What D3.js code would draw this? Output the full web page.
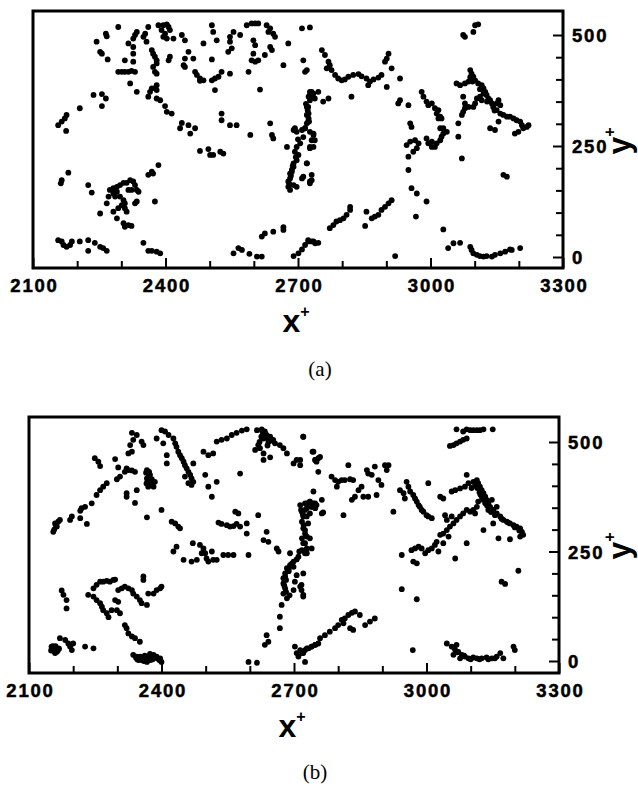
<!DOCTYPE html>
<html>
<head>
<meta charset="utf-8">
<script src="https://cdn.jsdelivr.net/npm/d3@7"></script>
<style>
  body { margin: 0; background: #fff; }
  svg { display: block; }
</style>
</head>
<body>
<div id="chart"></div>
<script>
// axis values
const xTickValues = [2100, 2200, 2300, 2400, 2500, 2600, 2700, 2800, 2900, 3000, 3100, 3200, 3300];
const xTickLabels = [2100, 2400, 2700, 3000, 3300];
const yTickValues = [0, 50, 100, 150, 200, 250, 300, 350, 400, 450, 500];
const yTickLabels = [0, 250, 500];
const captions = ["(a)", "(b)"];

// panel (a) points, [x+, y+]
const pointsA = [
  [2293,518],[2244,485],[2265,503],[2267,497],[2252,462],[2256,458],[2269,445],[2335,507],[2331,500],[2327,492],
  [2316,481],[2354,503],[2350,496],[2357,485],[2361,518],[2384,522],[2395,522],[2403,524],[2407,518],[2391,511],
  [2399,503],[2410,511],[2395,496],[2403,492],[2418,492],[2437,500],[2444,488],[2327,473],[2327,458],[2308,443],
  [2327,440],[2369,466],[2372,458],[2376,451],[2380,443],[2380,436],[2410,451],[2407,443],[2452,462],[2444,447],
  [2463,447],[2441,432],[2444,428],[2293,417],[2301,417],[2308,417],[2316,417],[2323,419],[2331,417],[2320,391],
  [2372,428],[2376,417],[2380,413],[2380,387],[2376,380],[2369,380],[2365,372],[2361,361],[2380,376],[2335,372],
  [2380,357],[2388,353],[2399,340],[2403,327],[2414,323],[2467,417],[2471,410],[2478,402],[2486,398],[2478,397],
  [2486,481],[2505,522],[2508,507],[2516,488],[2505,445],[2505,398],[2512,402],[2520,406],[2527,417],[2546,413],
  [2512,376],[2546,496],[2554,507],[2546,485],[2550,470],[2542,462],[2584,522],[2595,526],[2603,526],[2610,526],
  [2569,500],[2599,488],[2603,477],[2599,458],[2595,443],[2603,440],[2610,443],[2588,417],[2629,522],[2637,515],
  [2633,507],[2644,503],[2648,496],[2637,473],[2641,466],[2625,455],[2667,432],[2678,481],[2709,515],[2727,517],
  [2712,443],[2720,421],[2716,417],[2614,377],[2731,372],[2727,365],[2237,365],[2256,367],[2265,357],[2256,340],
  [2206,335],[2176,320],[2172,312],[2165,305],[2157,297],[2175,284],[2437,302],[2452,297],[2467,290],[2433,290],
  [2456,278],[2527,323],[2527,308],[2546,297],[2561,297],[2592,275],[2637,301],[2641,275],[2644,267],[2675,248],
  [2693,290],
  // vertical streak near x+ = 2700
  [2724,361],[2735,368],[2727,353],[2720,338],[2724,323],[2724,312],[2720,301],[2716,290],[2709,286],[2697,282],
  [2690,286],[2727,282],[2735,275],[2731,263],[2727,248],[2705,256],[2697,248],[2693,237],[2701,230],[2697,218],
  [2690,211],[2690,203],[2686,196],[2682,188],[2682,177],[2678,170],[2678,158],[2682,151],[2690,162],[2697,158],
  [2709,177],[2720,211],[2731,173],[2727,166],[2722,330],[2718,345],[2725,305],[2712,270],[2700,265],[2695,225],
  [2688,205],[2684,183],[2680,165],[2686,192],
  [2478,239],[2497,243],[2501,230],[2508,230],[2524,237],[2531,233],[2384,207],[2369,192],[2372,188],[2361,185],
  [2180,190],[2165,173],[2163,166],[2225,162],[2233,145],
  // cluster near 2300
  [2274,151],[2282,155],[2290,158],[2297,162],[2305,167],[2312,167],[2320,173],[2327,170],[2331,162],[2335,151],
  [2339,147],[2323,151],[2316,151],[2290,147],[2282,143],[2271,136],[2267,121],[2286,136],[2297,136],[2305,128],
  [2308,121],[2301,117],[2308,110],[2312,102],[2293,110],[2282,102],[2252,98],[2335,125],[2331,121],[2376,125],
  [2290,87],[2305,76],[2308,68],[2316,72],[2323,70],
  // near the floor
  [2157,38],[2165,35],[2169,27],[2176,23],[2184,27],[2188,35],[2206,35],[2225,38],[2240,32],[2252,23],
  [2259,20],[2267,14],[2225,14],[2350,32],[2361,14],[2369,14],[2380,12],[2388,8],[2554,8],[2565,20],
  [2573,16],[2590,7],[2607,1],[2618,1],[2618,46],[2625,53],[2644,57],[2667,61],[2667,67],[2690,2],
  [2701,8],[2709,17],[2716,27],[2724,35],[2731,35],[2739,31],
  // right half
  [2754,466],[2761,455],[2769,440],[2772,432],[2765,425],[2776,421],[2784,410],[2791,402],[2799,398],[2806,400],
  [2814,406],[2825,410],[2837,412],[2844,407],[2855,402],[2863,395],[2859,387],[2871,400],[2882,404],[2889,410],
  [2897,440],[2901,447],[2905,458],[2912,425],[2901,383],[2931,402],[2821,361],[2727,372],[2746,372],[2738,357],
  [2731,361],[2757,350],[2769,357],[2723,338],[2720,320],[2723,305],[2716,290],[2735,278],[2738,263],[2735,248],
  [2727,245],[2720,211],[2731,185],[2727,170],[2712,181],[2931,353],[2927,346],[2950,342],[2954,301],[2957,293],
  [2946,252],[2954,260],[2965,263],[2973,256],[2969,245],[2961,237],[2950,226],[2980,372],[2984,361],[2991,350],
  [2995,342],[3003,346],[3010,335],[3018,331],[3014,323],[3022,316],[3025,312],[3018,312],[2991,267],[2995,256],
  [3003,248],[3010,248],[3014,256],[3022,263],[3025,271],[3029,278],[3037,282],[3022,290],[3029,290],[3003,260],
  [2950,196],[2957,155],[2969,143],[2991,125],[2967,91],[3074,500],[3078,496],[3097,507],[3101,522],[3108,524],
  [3059,391],[3067,387],[3078,391],[3086,395],[3090,421],[3093,413],[3097,406],[3101,398],[3108,391],[3116,387],
  [3120,380],[3124,372],[3127,365],[3131,357],[3135,353],[3139,346],[3142,338],[3150,331],[3158,323],[3165,320],
  [3173,316],[3180,316],[3188,312],[3195,308],[3203,305],[3207,297],[3210,290],[3218,293],[3222,297],[3199,282],
  [3191,278],[3154,353],[3158,342],[3150,346],[3112,361],[3116,353],[3105,357],[3101,346],[3097,338],[3086,338],
  [3078,335],[3074,327],[3071,320],[3063,301],[3074,361],[3078,346],[3063,271],[3071,222],[3135,290],[3146,286],
  [3154,305],[3165,185],[3173,181],[3090,405],[3095,395],[3112,378],[3120,368],[3128,350],[3145,330],
  [2723,38],[2735,35],[2746,32],[2772,65],[2780,72],[2787,80],[2795,83],[2803,87],[2810,95],[2818,106],
  [2818,113],[2852,70],[2855,102],[2867,87],[2874,91],[2882,95],[2889,106],[2897,113],[2905,121],[2912,128],
  [2920,2],[3029,62],[3040,20],[3052,31],[3067,32],[3090,23],[3093,16],[3097,8],[3105,5],[3112,2],
  [3120,1],[3127,2],[3139,1],[3146,5],[3158,8],[3169,12],[3180,17],[3184,16],[3203,20]
];

// panel (b) points
const pointsB = [
  [2333,521],[2344,516],[2336,505],[2329,493],[2355,501],[2359,493],[2333,478],[2325,474],[2389,508],[2400,527],
  [2408,524],[2416,516],[2404,497],[2427,508],[2431,497],[2434,489],[2438,478],[2442,470],[2446,463],[2450,455],
  [2453,447],[2457,440],[2461,432],[2465,425],[2468,417],[2472,409],[2468,402],[2461,406],[2453,421],[2472,451],
  [2412,470],[2412,451],[2525,501],[2536,505],[2548,508],[2559,516],[2570,521],[2582,526],[2593,529],[2495,478],
  [2506,470],[2517,474],[2499,425],[2506,398],[2525,409],[2514,375],[2578,428],[2616,527],[2627,529],[2634,524],
  [2638,516],[2631,508],[2646,512],[2653,505],[2619,493],[2612,482],[2623,486],[2631,474],[2631,459],[2646,465],
  [2657,497],[2668,493],[2676,486],[2684,474],[2699,451],[2714,447],[2706,459],[2721,512],[2742,478],[2748,459],
  [2755,463],[2744,387],[2249,463],[2257,455],[2261,445],[2295,461],[2302,442],[2321,440],[2317,432],[2325,436],
  [2333,435],[2340,432],[2306,421],[2299,415],[2276,406],[2268,398],[2261,390],[2253,379],[2242,360],[2227,352],
  [2219,349],[2216,343],[2367,436],[2370,428],[2367,417],[2374,413],[2378,406],[2382,398],[2370,398],[2374,425],
  [2385,409],[2344,390],[2321,383],[2321,375],[2340,361],[2197,330],[2193,322],[2216,326],[2231,313],[2159,314],
  [2163,307],[2155,295],[2166,318],[2170,322],[2157,300],[2161,310],[2367,328],[2400,345],[2423,318],[2431,314],
  [2438,307],[2442,303],[2529,316],[2536,313],[2548,310],[2555,307],[2563,308],[2570,313],[2578,307],[2593,314],
  [2567,341],[2574,337],[2619,333],[2593,291],[2638,295],[2471,269],[2487,265],[2495,257],[2499,246],[2502,234],
  [2506,227],[2491,246],[2480,231],[2468,227],[2517,231],[2514,250],[2525,231],[2434,261],[2427,250],[2450,231],
  [2540,242],[2551,242],[2563,242],[2597,242],[2631,276],[2642,272],[2661,257],[2665,250],[2691,246],
  [2630,520],[2638,510],[2626,512],[2642,500],[2372,420],[2368,410],
  [2628,525],[2635,518],[2644,507],[2650,503],[2622,500],[2640,492],
  [2365,430],[2372,432],[2378,415],[2366,405],[2376,402],
  // vertical streak near x+ = 2700
  [2714,356],[2725,360],[2736,364],[2748,360],[2740,352],[2729,349],[2718,341],[2721,330],[2718,318],[2721,303],
  [2725,291],[2718,280],[2725,269],[2718,253],[2710,238],[2699,227],[2691,219],[2684,212],[2680,200],[2676,189],
  [2676,177],[2680,166],[2676,154],[2684,143],[2699,215],[2706,196],[2702,181],[2714,170],[2721,151],[2699,162],
  [2672,128],[2668,101],[2668,75],[2729,246],[2740,257],[2736,280],[2722,310],[2720,335],[2688,205],[2682,185],
  [2712,250],[2706,232],[2695,222],[2688,210],[2680,192],[2678,172],[2682,158],[2690,150],[2716,345],[2731,355],
  // lower left
  [2174,161],[2178,151],[2185,139],[2185,120],[2234,151],[2246,166],[2253,174],[2261,181],[2268,181],[2276,183],
  [2283,181],[2291,185],[2295,186],[2302,162],[2310,166],[2317,170],[2325,166],[2333,162],[2336,154],[2344,147],
  [2351,139],[2355,132],[2367,128],[2370,154],[2382,154],[2389,162],[2397,166],[2400,170],[2359,193],[2359,185],
  [2246,147],[2253,139],[2261,132],[2265,124],[2268,116],[2276,109],[2280,100],[2287,116],[2299,116],[2295,139],
  [2302,135],[2306,109],[2317,82],[2321,75],[2325,63],[2333,56],[2340,52],[2351,44],
  [2151,33],[2155,25],[2159,18],[2163,21],[2166,29],[2170,52],[2182,48],[2189,40],[2193,33],[2197,25],
  [2200,40],[2227,33],[2246,29],[2153,28],[2158,30],[2162,26],[2157,22],[2165,24],
  [2150,24],[2154,34],[2160,34],[2168,28],
  [2336,14],[2344,10],[2351,6],[2359,6],[2367,10],[2374,16],[2382,14],[2389,10],[2397,6],[2400,-2],
  [2367,-2],[2355,2],[2345,4],[2352,10],[2362,12],[2372,8],[2380,4],[2390,6],
  [2342,8],[2348,2],[2360,0],[2375,2],[2385,10],[2395,2],
  [2597,-2],[2616,-4],[2634,37],[2642,44],[2638,59],[2702,33],[2706,18],[2710,10],[2718,18],[2725,25],
  [2733,29],[2740,33],[2748,37],[2755,40],[2725,-2],
  // right half
  [2721,512],[2714,459],[2744,478],[2759,466],[2751,455],[2755,432],[2748,459],[2785,421],[2793,413],[2800,409],
  [2808,413],[2815,413],[2827,415],[2834,413],[2823,447],[2797,398],[2812,333],[2831,368],[2838,375],[2846,390],
  [2853,398],[2857,375],[2868,375],[2865,436],[2868,428],[2883,444],[2876,425],[2891,413],[2898,402],[2887,379],
  [2906,447],[2914,447],[2910,436],[2729,360],[2736,364],[2744,360],[2751,356],[2748,349],[2725,345],[2729,330],
  [2732,314],[2725,299],[2729,284],[2721,269],[2729,257],[2725,246],[2763,337],[2766,339],[2763,368],[2736,337],
  [2740,352],[2721,200],[2717,174],[2717,162],[2721,147],[2925,341],[2940,390],[2948,383],[2955,409],[2959,398],
  [2963,387],[2970,379],[2974,371],[2978,364],[2982,356],[2985,352],[2989,345],[2993,341],[3000,333],[3004,330],
  [3012,326],[2951,371],[3004,406],[3031,375],[3038,371],[3042,333],[2944,242],[2966,253],[2974,257],[2982,261],
  [2989,257],[2997,246],[3004,253],[3012,257],[3019,265],[3023,272],[3027,250],[3038,269],[2970,227],[2978,223],
  [3065,234],[3031,288],[3038,291],[3046,299],[3053,307],[3061,314],[3068,322],[3076,330],[3083,337],[3091,345],
  [3099,341],[3106,345],[3110,337],[3057,330],[3046,322],[3050,284],[3091,269],[3057,387],[3065,390],[3076,394],
  [3087,398],[3095,406],[3106,409],[3114,413],[3117,406],[3121,398],[3125,390],[3129,383],[3133,375],[3136,368],
  [3140,360],[3144,352],[3151,345],[3159,337],[3167,330],[3174,322],[3182,318],[3189,314],[3197,310],[3204,307],
  [3212,303],[3216,295],[3219,288],[3212,284],[3125,375],[3117,364],[3114,352],[3133,360],[3148,368],[3159,352],
  [3091,425],[3129,299],[3151,314],[3163,280],[3189,278],[3110,400],[3120,385],[3128,368],[3140,345],[3102,395],
  [3115,395],[3122,380],[3137,355],[3146,340],[3155,333],[3170,325],[3185,316],[3200,305],[3210,298],
  [2944,164],[2978,141],[3170,181],[3178,176],[3208,206],[3068,529],[3083,524],[3091,529],[3099,527],[3106,527],
  [3114,527],[3121,527],[3129,529],[3150,529],[3053,491],[3061,493],[3068,497],[3076,501],[3083,505],[3091,508],
  [2714,25],[2721,18],[2729,29],[2740,33],[2748,37],[2759,52],[2770,59],[2781,67],[2793,75],[2800,82],
  [2808,94],[2815,97],[2823,105],[2831,110],[2838,113],[2849,105],[2827,75],[2834,71],[2861,82],[2872,90],
  [2883,97],[2812,86],[2969,25],[3046,40],[3057,33],[3065,25],[3061,14],[3072,21],[3080,14],[3087,10],
  [3095,6],[3106,8],[3114,6],[3125,6],[3136,8],[3148,6],[3159,10],[3167,18],[3174,6],[3068,37],
  [3076,6],[3200,25],[3197,33],
  [3085,12],[3100,4],[3120,4],[3140,4],[3155,6],[3063,30],[3070,20]
];

const panels = [
  { data: pointsA, left: 33, right: 563, top: 11, bottom: 268, y0: 257, y500: 35, ylab: 141, caption: captions[0], capX: 320, capY: 376 },
  { data: pointsB, left: 29, right: 559, top: 417, bottom: 673, y0: 661, y500: 442, ylab: 546, caption: captions[1], capX: 315, capY: 779 }
];

const width = 638, height = 787;
const bold = "'Liberation Sans', Arial, sans-serif";

const svg = d3.select("#chart").append("svg")
    .attr("width", width)
    .attr("height", height);

panels.forEach(p => {
  const x = d3.scaleLinear().domain([2100, 3300]).range([p.left, p.right]);
  const y = d3.scaleLinear().domain([0, 500]).range([p.y0, p.y500]);

  const g = svg.append("g");

  // points
  g.append("g")
    .selectAll("circle")
    .data(p.data)
    .join("circle")
      .attr("cx", d => x(d[0]))
      .attr("cy", d => y(d[1]))
      .attr("r", 2.9)
      .attr("fill", "#000");

  // bottom axis, ticks pointing in
  const xa = g.append("g")
      .attr("transform", `translate(0,${p.bottom})`)
      .call(d3.axisBottom(x)
        .tickValues(xTickValues)
        .tickSize(-7)
        .tickFormat(d => xTickLabels.includes(d) ? d : ""));
  xa.select(".domain").remove();
  xa.selectAll(".tick line")
      .attr("stroke-width", 2)
      .attr("y2", d => xTickLabels.includes(d) ? -10 : -7);
  xa.selectAll(".tick text")
      .attr("y", 24)
      .attr("dy", 0)
      .attr("font-family", bold)
      .attr("font-weight", "bold")
      .attr("font-size", 18.5)
      .attr("letter-spacing", 1.8)
      .attr("stroke", "#000")
      .attr("stroke-width", 0.5)
      .attr("dx", 1);

  // right axis, ticks pointing in
  const ya = g.append("g")
      .attr("transform", `translate(${p.right},0)`)
      .call(d3.axisRight(y)
        .tickValues(yTickValues)
        .tickSize(-7)
        .tickFormat(d => yTickLabels.includes(d) ? d : ""));
  ya.select(".domain").remove();
  ya.selectAll(".tick line")
      .attr("stroke-width", 2)
      .attr("x2", d => yTickLabels.includes(d) ? -10 : -7);
  ya.selectAll(".tick text")
      .attr("x", 9)
      .attr("dy", "0.36em")
      .attr("font-family", bold)
      .attr("font-weight", "bold")
      .attr("font-size", 18.5)
      .attr("letter-spacing", 1.8)
      .attr("stroke", "#000")
      .attr("stroke-width", 0.5);

  // frame
  g.append("rect")
      .attr("x", p.left)
      .attr("y", p.top)
      .attr("width", p.right - p.left)
      .attr("height", p.bottom - p.top)
      .attr("fill", "none")
      .attr("stroke", "#000")
      .attr("stroke-width", 3);

  // x+ label
  const xl = g.append("text")
      .attr("x", (p.left + p.right) / 2 - 2)
      .attr("y", p.bottom + 64)
      .attr("text-anchor", "middle")
      .attr("font-family", bold)
      .attr("font-weight", "bold")
      .attr("font-size", 32);
  xl.append("tspan").text("x");
  xl.append("tspan").attr("font-size", 16).attr("dy", -15).text("+");

  // y+ label, rotated
  const yl = g.append("text")
      .attr("transform", `translate(630,${p.ylab}) rotate(-90)`)
      .attr("text-anchor", "middle")
      .attr("font-family", bold)
      .attr("font-weight", "bold")
      .attr("font-size", 32);
  yl.append("tspan").text("y");
  yl.append("tspan").attr("font-size", 16).attr("dy", -15).text("+");

  // caption
  g.append("text")
      .attr("x", p.capX)
      .attr("y", p.capY)
      .attr("text-anchor", "middle")
      .attr("font-family", "'Liberation Serif', 'DejaVu Serif', serif")
      .attr("font-size", 21)
      .text(p.caption);
});
</script>
</body>
</html>
